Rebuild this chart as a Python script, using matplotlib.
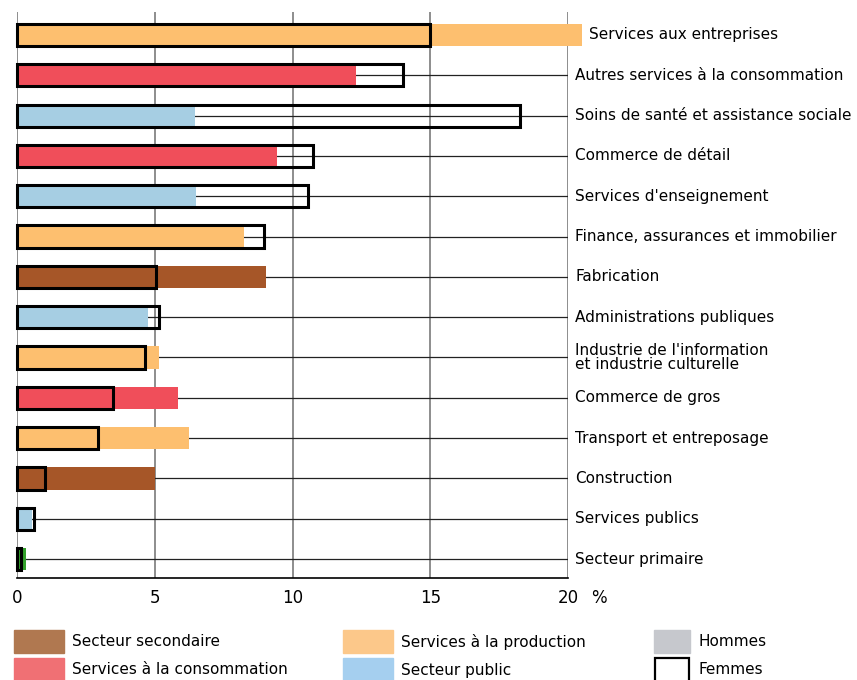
import matplotlib.pyplot as plt
import matplotlib.patches as mpatches
import numpy as np

# Données (%), de haut en bas
branches = ["Services aux entreprises", "Autres services à la consommation",
            "Soins de santé et assistance sociale", "Commerce de détail",
            "Services d'enseignement", "Finance, assurances et immobilier",
            "Fabrication", "Administrations publiques",
            "Industrie de l'information\net industrie culturelle",
            "Commerce de gros", "Transport et entreposage", "Construction",
            "Services publics", "Secteur primaire"]
hommes = [20.5, 12.3, 6.45, 9.45, 6.5, 8.25, 9.05, 4.75, 5.15, 5.85, 6.25, 5.0, 0.55, 0.33]
femmes = [15.0, 14.0, 18.25, 10.75, 10.55, 8.95, 5.05, 5.15, 4.65, 3.5, 2.95, 1.0, 0.6, 0.15]
secteurs = ["prod", "conso", "public", "conso", "public", "prod", "second", "public",
            "prod", "conso", "prod", "second", "public", "primaire"]

couleurs = {"prod": "#FDBF6F", "conso": "#F04E5A", "public": "#A6CEE3",
            "second": "#A65628", "primaire": "#33A02C"}

fig = plt.figure(figsize=(8.57, 6.8), dpi=100)
ax = fig.add_axes([17 / 857, 1 - 578 / 680, 551 / 857, (578 - 12) / 680])

y = np.arange(len(branches))
h = 0.55

# grille verticale
for v in [0, 5, 10, 15, 20]:
    ax.axvline(v, color="#6f6f6f", lw=1.1, zorder=1)

# lignes de rappel
for i in range(len(branches)):
    if hommes[i] < 20:
        ax.plot([hommes[i], 20], [y[i], y[i]], color="#222222", lw=0.9, zorder=1.5)

# hommes : barres pleines
ax.barh(y, hommes, height=h, color=[couleurs[s] for s in secteurs],
        zorder=2, clip_on=False)
# femmes : contours
ax.barh(y, femmes, height=h, facecolor="none", edgecolor="black",
        linewidth=2.2, zorder=3, clip_on=False)

for i, lab in enumerate(branches):
    xl = max(20, hommes[i]) + 0.27
    ax.text(xl, y[i], lab, va="center", ha="left", fontsize=11,
            linespacing=0.85, clip_on=False)

ax.set_xlim(0, 20)
ax.set_ylim(13.47, -0.57)
for s in ["top", "right", "left"]:
    ax.spines[s].set_visible(False)
ax.spines["bottom"].set_linewidth(1.2)
ax.set_yticks([])
ax.set_xticks([0, 5, 10, 15, 20])
ax.tick_params(axis="x", length=0, labelsize=12, pad=8)
ax.annotate("%", xy=(20, 0), xycoords=("data", "axes fraction"),
            xytext=(17, -8), textcoords="offset points", ha="left", va="top",
            fontsize=12)

# légende
leg = [("Secteur secondaire", "#B07850", 14, 630, 50),
       ("Services à la consommation", "#F07074", 14, 658, 50),
       ("Services à la production", "#FCC88A", 343, 630, 50),
       ("Secteur public", "#A5CFEF", 343, 658, 50),
       ("Hommes", "#C6C8CD", 654, 630, 36)]
for txt, c, px, py, w in leg:
    fig.patches.append(mpatches.Rectangle((px / 857, 1 - (py + 23) / 680), w / 857, 23 / 680,
                                          transform=fig.transFigure, color=c))
    fig.text((px + w + 8) / 857, 1 - (py + 12) / 680, txt, va="center", fontsize=11)
fig.patches.append(mpatches.Rectangle((655 / 857, 1 - (658 + 25) / 680), 34 / 857, 25 / 680,
                                      transform=fig.transFigure, facecolor="none",
                                      edgecolor="black", lw=1.6))
fig.text(698 / 857, 1 - 670 / 680, "Femmes", va="center", fontsize=11)

fig.savefig("out.png", dpi=100)
